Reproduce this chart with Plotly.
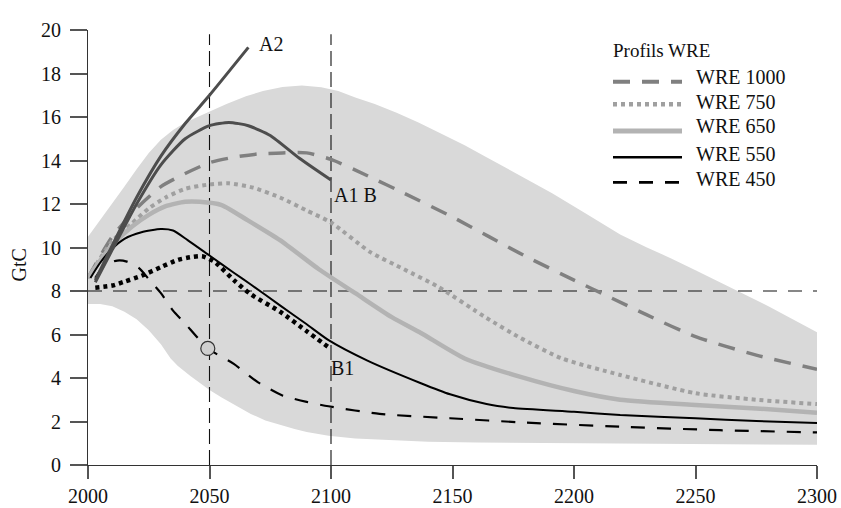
import plotly.graph_objects as go

# ---- data -------------------------------------------------------------
band_upper_years = [2000, 2005, 2010, 2015, 2020, 2025, 2030, 2035, 2040, 2045, 2050, 2057,
                    2065, 2072, 2080, 2088, 2096, 2103, 2110, 2118, 2127, 2136, 2145, 2155,
                    2164, 2178, 2191, 2205, 2219, 2230, 2240, 2250, 2260, 2270, 2280, 2290, 2300]
band_upper_vals = [10.5, 11.25, 12.0, 12.8, 13.6, 14.35, 14.95, 15.4, 15.75, 16.0, 16.25, 16.6,
                   16.95, 17.2, 17.38, 17.45, 17.37, 17.2, 16.9, 16.6, 16.2, 15.75, 15.25, 14.7,
                   14.15, 13.3, 12.5, 11.55, 10.6, 10.0, 9.5, 8.95, 8.4, 7.85, 7.3, 6.7, 6.1]
band_lower_years = [2000, 2005, 2010, 2015, 2020, 2025, 2030, 2034, 2037, 2042, 2050, 2055,
                    2060, 2067, 2073, 2079, 2085, 2090, 2099, 2110, 2120, 2140, 2160, 2180,
                    2220, 2300]
band_lower_vals = [7.4, 7.4, 7.3, 7.05, 6.7, 6.2, 5.55, 4.9, 4.55, 4.1, 3.45, 3.1,
                   2.78, 2.35, 2.05, 1.84, 1.65, 1.52, 1.35, 1.22, 1.15, 1.07, 1.03, 1.0,
                   0.97, 0.93]

wre1000_years = [2000, 2005, 2010, 2020, 2030, 2040, 2050, 2060, 2070, 2080, 2090, 2100,
                 2115, 2130, 2150, 2165, 2180, 2200, 2215, 2230, 2250, 2275, 2300]
wre1000_vals = [8.6, 9.6, 10.5, 11.8, 12.8, 13.4, 13.9, 14.15, 14.3, 14.35, 14.35, 14.05,
                13.3, 12.5, 11.4, 10.5, 9.6, 8.5, 7.7, 6.9, 5.9, 5.05, 4.4]

wre750_years = [2000, 2005, 2010, 2018, 2025, 2032, 2040, 2050, 2058, 2068, 2079, 2090,
                2100, 2116, 2130, 2144, 2164, 2178, 2195, 2219, 2250, 2275, 2300]
wre750_vals = [8.6, 9.5, 10.3, 11.1, 11.8, 12.3, 12.7, 12.9, 12.95, 12.75, 12.3, 11.7,
               11.15, 9.8, 9.0, 8.2, 6.76, 5.84, 4.9, 4.14, 3.3, 3.0, 2.8]

wre650_years = [2000, 2005, 2010, 2018, 2025, 2032, 2040, 2046, 2055, 2065, 2079, 2095,
                2110, 2125, 2137, 2155, 2178, 2200, 2219, 2250, 2275, 2300]
wre650_vals = [8.6, 9.4, 10.1, 10.95, 11.5, 11.9, 12.1, 12.1, 11.95, 11.3, 10.34, 9.0,
               7.9, 6.8, 6.07, 4.9, 4.05, 3.4, 3.0, 2.76, 2.6, 2.4]

wre550_years = [2001, 2005, 2010, 2015, 2022, 2030, 2035, 2041, 2050, 2060, 2067, 2079,
                2090, 2099, 2115, 2137, 2149, 2164, 2175, 2200, 2219, 2250, 2275, 2300]
wre550_vals = [8.6, 9.3, 9.95, 10.4, 10.7, 10.85, 10.78, 10.34, 9.63, 8.84, 8.3, 7.34,
               6.47, 5.74, 4.8, 3.76, 3.25, 2.8, 2.62, 2.45, 2.3, 2.15, 2.02, 1.93]

wre450_years = [2003, 2007, 2012, 2016, 2021, 2025, 2030, 2035, 2040, 2049.3, 2060, 2070,
                2080, 2090, 2099, 2120, 2149, 2180, 2219, 2260, 2300]
wre450_vals = [8.6, 9.2, 9.4, 9.35, 9.05, 8.55, 7.9, 7.1, 6.5, 5.36, 4.65, 3.8,
               3.2, 2.9, 2.7, 2.35, 2.15, 1.95, 1.76, 1.6, 1.5]

a2_years = [2003, 2010, 2020, 2030, 2040, 2050, 2066]
a2_vals = [8.5, 10.1, 12.3, 14.2, 15.7, 17.0, 19.2]

a1b_years = [2003, 2010, 2020, 2030, 2040, 2050, 2058, 2066, 2075, 2087, 2100]
a1b_vals = [8.4, 9.9, 12.0, 13.8, 15.0, 15.6, 15.75, 15.6, 15.15, 14.1, 13.1]

b1_years = [2003, 2010, 2015, 2022, 2030, 2037, 2042, 2047, 2052, 2060, 2067, 2079, 2090, 2099.5]
b1_vals = [8.15, 8.25, 8.43, 8.7, 9.1, 9.43, 9.55, 9.6, 9.35, 8.5, 7.85, 7.05, 6.15, 5.37]

marker_year, marker_val = 2049.3, 5.36
ref_years = [2050, 2100]
ref_level = 8
ref_top = 19.8

x_ticks = [2000, 2050, 2100, 2150, 2200, 2250, 2300]
y_ticks = [0, 2, 4, 6, 8, 10, 12, 14, 16, 18, 20]

scenario_labels = [("A2", 2069.5, 19.36), ("A1 B", 2100.6, 12.41), ("B1", 2099, 4.44)]

# ---- styling ------------------------------------------------------------
FONT = "Liberation Serif"
DARK = "#4d4d4d"

wre_series = [
    ("WRE 1000", wre1000_years, wre1000_vals, dict(color="#808080", width=3.5, dash="17px,12px")),
    ("WRE 750", wre750_years, wre750_vals, dict(color="#a0a0a0", width=4, dash="4px,4px")),
    ("WRE 650", wre650_years, wre650_vals, dict(color="#b3b3b3", width=4.5)),
    ("WRE 550", wre550_years, wre550_vals, dict(color="#000000", width=2)),
    ("WRE 450", wre450_years, wre450_vals, dict(color="#000000", width=2.2, dash="14px,12px")),
]

fig = go.Figure()

# uncertainty envelope
fig.add_trace(go.Scatter(
    x=band_upper_years + band_lower_years[::-1],
    y=band_upper_vals + band_lower_vals[::-1],
    fill="toself", fillcolor="#d9d9d9", line=dict(width=0),
    mode="lines", hoverinfo="skip", showlegend=False))

# reference lines
for yr in ref_years:
    fig.add_trace(go.Scatter(x=[yr, yr], y=[0, ref_top], mode="lines",
                             line=dict(color="#111111", width=1.1, dash="15px,6px"),
                             hoverinfo="skip", showlegend=False))
fig.add_trace(go.Scatter(x=[x_ticks[0], x_ticks[-1]], y=[ref_level, ref_level], mode="lines",
                         line=dict(color="#111111", width=1.1, dash="14px,11px"),
                         hoverinfo="skip", showlegend=False))

# WRE profiles
for name, xs, ys, style in wre_series:
    fig.add_trace(go.Scatter(x=xs, y=ys, mode="lines", name=name,
                             line=dict(shape="spline", smoothing=0.6, **style),
                             showlegend=False))

# SRES scenarios
fig.add_trace(go.Scatter(x=a2_years, y=a2_vals, mode="lines", name="A2",
                         line=dict(color=DARK, width=3, shape="spline", smoothing=0.6),
                         showlegend=False))
fig.add_trace(go.Scatter(x=a1b_years, y=a1b_vals, mode="lines", name="A1 B",
                         line=dict(color=DARK, width=3, shape="spline", smoothing=0.6),
                         showlegend=False))
fig.add_trace(go.Scatter(x=b1_years, y=b1_vals, mode="lines", name="B1",
                         line=dict(color="#000000", width=4.5, dash="4px,4px",
                                   shape="spline", smoothing=0.6),
                         showlegend=False))

fig.add_trace(go.Scatter(x=[marker_year], y=[marker_val], mode="markers",
                         marker=dict(size=14, color="#d0d0d0", line=dict(color="#333333", width=1.2)),
                         showlegend=False))

for text, lx, ly in scenario_labels:
    fig.add_annotation(x=lx, y=ly, text=text, showarrow=False, xanchor="left", yanchor="middle",
                       font=dict(family=FONT, size=20, color="#111111"))

# ---- hand-drawn legend block (paper coordinates) -------------------------
PLOT_L, PLOT_R, PLOT_T, PLOT_B = 88, 817, 30, 465


def px(xp):
    return (xp - PLOT_L) / (PLOT_R - PLOT_L)


def py(yp):
    return (PLOT_B - yp) / (PLOT_B - PLOT_T)


fig.add_annotation(xref="paper", yref="paper", x=px(611), y=py(51), text="Profils WRE",
                   showarrow=False, xanchor="left", yanchor="middle",
                   font=dict(family=FONT, size=19, color="#111111"))
line_rows = [81.7, 104.3, 131, 157.3, 182.3]
text_rows = [77, 101.5, 126.5, 153.5, 178.5]
for (name, _, _, style), ly, ty in zip(wre_series, line_rows, text_rows):
    fig.add_shape(type="line", xref="paper", yref="paper",
                  x0=px(613), x1=px(682), y0=py(ly), y1=py(ly),
                  line=dict(color=style["color"], width=style["width"] + 0.5,
                            dash=style.get("dash", "solid")))
    fig.add_annotation(xref="paper", yref="paper", x=px(694), y=py(ty), text=name,
                       showarrow=False, xanchor="left", yanchor="middle",
                       font=dict(family=FONT, size=20, color="#111111"))

fig.add_annotation(xref="paper", yref="paper", x=px(18.5), y=py(265), text="GtC",
                   textangle=-90, showarrow=False, xanchor="center", yanchor="middle",
                   font=dict(family=FONT, size=20, color="#111111"))

axis_common = dict(showgrid=False, zeroline=False, showline=True, linecolor="#333333",
                   linewidth=1.2, ticks="outside", tickcolor="#555555", tickwidth=1.5,
                   tickfont=dict(family=FONT, size=20, color="#111111"), automargin=False)

fig.update_xaxes(range=[2000, 2300], tickvals=x_ticks, ticklen=13, **axis_common)
fig.update_yaxes(range=[0, 20], tickvals=y_ticks, ticklen=17, ticklabelstandoff=5, **axis_common)

fig.update_layout(width=841, height=508, margin=dict(l=PLOT_L, r=841 - PLOT_R, t=PLOT_T, b=508 - PLOT_B),
                  plot_bgcolor="white", paper_bgcolor="white", showlegend=False,
                  font=dict(family=FONT))

fig.write_html("out.html")
